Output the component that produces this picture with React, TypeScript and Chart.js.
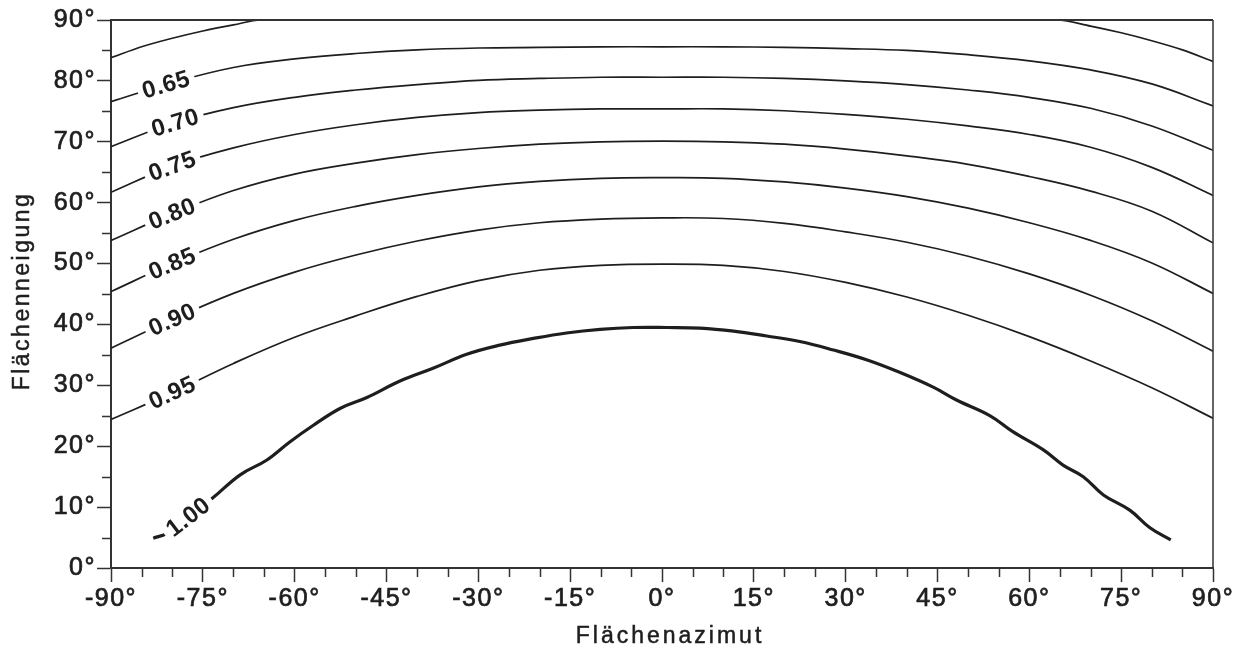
import React, { useEffect, useRef } from "react";
import { Chart, registerables } from "chart.js";

Chart.register(...registerables);

// ---------- data ----------
const AZIMUTH = [-90, -80, -70, -60, -50, -40, -30, -20, -10, 0, 10, 20, 30, 40, 50, 60, 70, 80, 90];

const AZIMUTH_060 = [-90, -85, -80, -75, -70, -65.5, 64.5, 70, 75, 80, 85, 90];
const TILT_060 = [83.8, 85.6, 87.0, 88.2, 89.2, 90, 90, 89.0, 87.9, 86.6, 85.1, 83.2];

const TILT_065 = [76.6, 79.7, 82.2, 83.6, 84.5, 85.1, 85.4, 85.5, 85.6, 85.6, 85.6, 85.5, 85.3, 85.0, 84.3, 83.3, 81.8, 79.5, 75.9];
const TILT_070 = [69.2, 73.0, 75.6, 77.3, 78.5, 79.4, 80.1, 80.4, 80.6, 80.6, 80.6, 80.4, 80.0, 79.4, 78.5, 77.3, 75.5, 72.6, 68.6];
const TILT_075 = [61.7, 66.0, 69.0, 71.2, 72.8, 74.0, 74.8, 75.2, 75.4, 75.4, 75.4, 75.1, 74.5, 73.7, 72.6, 71.2, 69.1, 65.8, 61.2];
const TILT_080 = [53.8, 58.2, 62.0, 64.7, 66.5, 67.9, 68.9, 69.6, 70.0, 70.1, 70.0, 69.6, 68.8, 67.7, 66.3, 64.3, 61.9, 58.6, 53.4];
const TILT_085 = [45.4, 50.0, 54.0, 57.1, 59.4, 61.2, 62.6, 63.5, 64.0, 64.1, 64.0, 63.4, 62.4, 61.0, 59.1, 56.7, 53.8, 50.1, 45.1];
const TILT_090 = [36.1, 40.8, 45.1, 48.6, 51.4, 53.7, 55.5, 56.7, 57.3, 57.5, 57.4, 56.6, 55.2, 53.5, 51.2, 48.3, 44.8, 40.6, 35.6];
const TILT_095 = [24.4, 28.8, 33.6, 37.9, 41.4, 44.6, 47.2, 48.9, 49.7, 49.9, 49.7, 48.7, 46.9, 44.5, 41.5, 38.0, 34.0, 29.6, 24.6];

const AZIMUTH_100 = [-83.1, -80.9, -77.4, -73.5, -68.9, -64.6, -60.8, -57.0, -52.6, -48.2, -42.8, -37.4, -31.9, -26.5, -21.0, -15.6, -10.1, -4.7, 0.8, 6.2, 11.7, 17.1, 22.5, 28.0, 33.4, 38.9, 44.3, 48.1, 53.6, 57.3, 62.3, 65.5, 68.8, 72.1, 76.4, 79.7, 83.1];
const TILT_100 = [4.9, 5.7, 8.4, 11.4, 15.3, 17.7, 20.7, 23.4, 26.2, 28.0, 30.7, 32.8, 35.1, 36.6, 37.7, 38.6, 39.2, 39.5, 39.5, 39.4, 38.9, 38.1, 37.2, 35.8, 34.2, 32.1, 29.7, 27.6, 25.0, 22.4, 19.4, 16.9, 15.0, 12.0, 9.5, 6.6, 4.6];

const LEVEL_LABELS = ["", "0.65", "0.70", "0.75", "0.80", "0.85", "0.90", "0.95", "1.00"];
const LABEL_AZIMUTH = [NaN, -81, -79.5, -80, -80, -80, -80, -80, -77.4];

const X_TITLE = "Flächenazimut";
const Y_TITLE = "Flächenneigung";

// ---------- styling ----------
const FONT = '"Liberation Sans", Arial, Helvetica, sans-serif';
const INK = "#1e1e1e";
const AXIS = "#333333";

const toPoints = (az: number[], tilt: number[]) => az.map((x, i) => ({ x, y: tilt[i] }));

const SERIES = [
  toPoints(AZIMUTH_060, TILT_060),
  toPoints(AZIMUTH, TILT_065),
  toPoints(AZIMUTH, TILT_070),
  toPoints(AZIMUTH, TILT_075),
  toPoints(AZIMUTH, TILT_080),
  toPoints(AZIMUTH, TILT_085),
  toPoints(AZIMUTH, TILT_090),
  toPoints(AZIMUTH, TILT_095),
  toPoints(AZIMUTH_100, TILT_100),
];

const bgPlugin = {
  id: "bg",
  beforeDraw(chart: any) {
    const ctx = chart.ctx;
    ctx.save();
    ctx.fillStyle = "#ffffff";
    ctx.fillRect(0, 0, chart.width, chart.height);
    ctx.restore();
    (ctx as any).letterSpacing = "1.5px";
  },
};

const contourLabelPlugin = {
  id: "contourLabels",
  afterDatasetsDraw(chart: any) {
    const ctx = chart.ctx;
    const xs = chart.scales.x;
    chart.data.datasets.forEach((ds: any, i: number) => {
      const text = LEVEL_LABELS[i];
      if (!text) return;
      const pts = chart.getDatasetMeta(i).data;
      const interp = (px: number) => {
        let k = 0;
        while (k < pts.length - 2 && pts[k + 1].x < px) k++;
        const a = pts[k], b = pts[k + 1];
        const t = (px - a.x) / (b.x - a.x);
        return a.y + t * (b.y - a.y);
      };
      const px = xs.getPixelForValue(LABEL_AZIMUTH[i]);
      const py = interp(px);
      const ang = Math.atan2(interp(px + 14) - interp(px - 14), 28);
      ctx.save();
      (ctx as any).letterSpacing = "0.5px";
      ctx.font = `bold 24px ${FONT}`;
      const w = ctx.measureText(text).width;
      ctx.translate(px, py);
      ctx.rotate(ang);
      ctx.fillStyle = "#ffffff";
      ctx.fillRect(-w / 2 - 5, -12, w + 10, 24);
      ctx.fillStyle = INK;
      ctx.textAlign = "center";
      ctx.textBaseline = "middle";
      ctx.fillText(text, 0, 1);
      ctx.restore();
    });
  },
};

const framePlugin = {
  id: "frame",
  afterDraw(chart: any) {
    const ctx = chart.ctx;
    const { left, right, top, bottom } = chart.chartArea;
    const xs = chart.scales.x;
    const ys = chart.scales.y;
    ctx.save();
    ctx.strokeStyle = AXIS;
    ctx.lineWidth = 2;
    ctx.beginPath();
    ctx.moveTo(left, top);
    ctx.lineTo(right, top);
    ctx.stroke();
    ctx.lineWidth = 1.5;
    ctx.beginPath();
    ctx.moveTo(right, top);
    ctx.lineTo(right, bottom);
    ctx.stroke();
    // minor ticks
    ctx.lineWidth = 1.5;
    ctx.beginPath();
    for (let v = -85; v < 90; v += 5) {
      if (v % 15 === 0) continue;
      const px = Math.round(xs.getPixelForValue(v)) + 0.5;
      ctx.moveTo(px, bottom);
      ctx.lineTo(px, bottom + 9);
    }
    for (let v = 5; v < 90; v += 10) {
      const py = Math.round(ys.getPixelForValue(v)) + 0.5;
      ctx.moveTo(left, py);
      ctx.lineTo(left - 9, py);
    }
    ctx.stroke();
    // axis titles
    ctx.fillStyle = INK;
    ctx.strokeStyle = INK;
    ctx.lineWidth = 0.5;
    ctx.font = `23px ${FONT}`;
    (ctx as any).letterSpacing = "3px";
    ctx.textAlign = "center";
    ctx.textBaseline = "alphabetic";
    ctx.fillText(X_TITLE, (left + right) / 2 + 8, 643);
    ctx.strokeText(X_TITLE, (left + right) / 2 + 8, 643);
    (ctx as any).letterSpacing = "2.5px";
    ctx.translate(29, (top + bottom) / 2 - 3);
    ctx.rotate(-Math.PI / 2);
    ctx.fillText(Y_TITLE, 0, 0);
    ctx.strokeText(Y_TITLE, 0, 0);
    ctx.restore();
  },
};

export default function App() {
  const ref = useRef<HTMLCanvasElement | null>(null);

  useEffect(() => {
    document.body.style.margin = "0";
    const canvas = ref.current;
    if (!canvas) return;
    const chart = new Chart(canvas, {
      type: "line",
      data: {
        datasets: SERIES.map((pts, i) => ({
          label: LEVEL_LABELS[i] || "0.60",
          data: pts,
          borderColor: INK,
          borderWidth: i === SERIES.length - 1 ? 3.2 : 1.7,
          pointRadius: 0,
          fill: false,
          tension: 0.4,
          cubicInterpolationMode: (i === 0 ? "monotone" : "default") as any,
        })),
      },
      options: {
        animation: false,
        responsive: false,
        events: [],
        layout: { padding: { top: 20, right: 33, left: 0, bottom: 0 } },
        plugins: { legend: { display: false }, tooltip: { enabled: false }, title: { display: false } },
        scales: {
          x: {
            type: "linear",
            min: -90,
            max: 90,
            afterFit: (s: any) => { s.height = 84; },
            ticks: {
              stepSize: 15,
              autoSkip: false,
              maxRotation: 0,
              padding: 2,
              color: INK,
              textStrokeColor: INK,
              textStrokeWidth: 0.7,
              font: { family: FONT, size: 25 },
              callback: (v: any) => `${v}°`,
            },
            grid: { drawOnChartArea: false, drawTicks: true, tickLength: 14, tickWidth: 1.5, tickColor: AXIS },
            border: { display: true, color: AXIS, width: 2 },
          },
          y: {
            type: "linear",
            min: 0,
            max: 90,
            afterFit: (s: any) => { s.width = 111; },
            ticks: {
              stepSize: 10,
              padding: 1,
              color: INK,
              textStrokeColor: INK,
              textStrokeWidth: 0.7,
              font: { family: FONT, size: 25 },
              callback: (v: any) => `${v}°`,
            },
            grid: { drawOnChartArea: false, drawTicks: true, tickLength: 14, tickWidth: 1.5, tickColor: AXIS },
            border: { display: true, color: AXIS, width: 2 },
          },
        },
      },
      plugins: [bgPlugin, contourLabelPlugin, framePlugin],
    });
    return () => chart.destroy();
  }, []);

  return (
    <div style={{ width: 1246, height: 652 }}>
      <canvas ref={ref} width={1246} height={652} style={{ display: "block" }} />
    </div>
  );
}
